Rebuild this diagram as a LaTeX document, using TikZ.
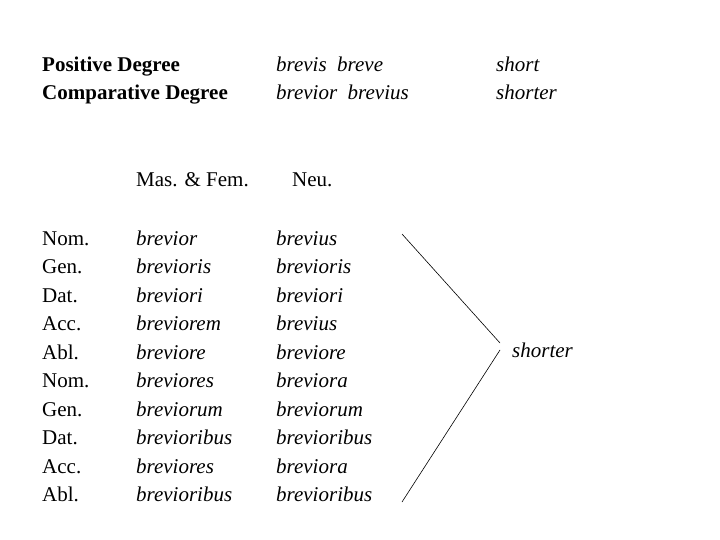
\documentclass[tikz,border=0pt]{standalone}
\usepackage{fontspec}
\setmainfont{Liberation Serif}
\begin{document}
\begin{tikzpicture}[x=1pt,y=-1pt,
  t/.style={anchor=base west,inner sep=0pt,font=\fontsize{21}{25}\selectfont}]
\useasboundingbox (0,0) rectangle (720,540);
\node[t,font=\fontsize{21}{25}\selectfont\bfseries] (p1) at (42,72) {Positive Degree};
\node[t,font=\fontsize{21}{25}\selectfont\bfseries] (p2) at (42,100) {Comparative Degree};
\node[t] (b1) at (276,72) {\itshape brevis\ \ breve};
\node[t] (b2) at (276,100) {\itshape brevior\ \ brevius};
\node[t] (s1) at (496,72) {\itshape short};
\node[t] (s2) at (496,100) {\itshape shorter};
\node[t] (h1) at (136,187) {Mas. \& Fem.};
\node[t] (h2) at (292,187) {Neu.};
\foreach \c/\m/\n [count=\i from 0] in {Nom./brevior/brevius,Gen./brevioris/brevioris,Dat./breviori/breviori,Acc./breviorem/brevius,Abl./breviore/breviore,Nom./breviores/breviora,Gen./breviorum/breviorum,Dat./brevioribus/brevioribus,Acc./breviores/breviora,Abl./brevioribus/brevioribus}{
  \node[t] (c\i) at (42,245+28.5*\i) {\c};
  \node[t] (m\i) at (136,245+28.5*\i) {\itshape\m};
  \node[t] (n\i) at (276,245+28.5*\i) {\itshape\n};
}
\coordinate (a) at (402,234);
\coordinate (tip1) at (500,343);
\coordinate (tip2) at (500,350);
\coordinate (z) at (402,502);
\draw[line width=0.6pt] (a) -- (tip1);
\draw[line width=0.6pt] (tip2) -- (z);
\node[t] (sh) at (512,357) {\itshape shorter};
\end{tikzpicture}
\end{document}
